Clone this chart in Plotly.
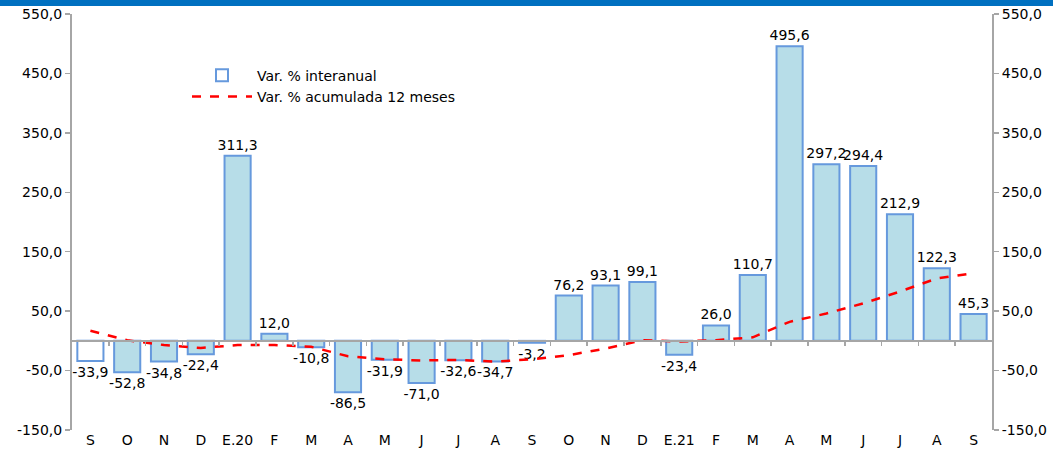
import plotly.graph_objects as go

months = ["S", "O", "N", "D", "E.20", "F", "M", "A", "M", "J", "J", "A", "S",
          "O", "N", "D", "E.21", "F", "M", "A", "M", "J", "J", "A", "S"]
interanual = [-33.9, -52.8, -34.8, -22.4, 311.3, 12.0, -10.8, -86.5, -31.9, -71.0,
              -32.6, -34.7, -3.2, 76.2, 93.1, 99.1, -23.4, 26.0, 110.7, 495.6,
              297.2, 294.4, 212.9, 122.3, 45.3]
acumulada = [17, 1, -7, -12, -7, -7, -10, -26, -31, -33, -32, -35, -31, -24, -13,
             1, -1, 1, 6, 32, 46, 63, 83, 105, 114]
y_ticks = [550, 450, 350, 250, 150, 50, -50, -150]
y_ticktext = [f"{v:.1f}".replace(".", ",") for v in y_ticks]

x = list(range(len(months)))
labels = [f"{v:.1f}".replace(".", ",") for v in interanual]
fills = ["#ffffff"] + ["#b7dde8"] * (len(months) - 1)

FONT = "DejaVu Sans"
ymin, ymax = -150, 550

fig = go.Figure()
fig.add_trace(go.Bar(
    x=x, y=interanual, name="Var. % interanual",
    marker=dict(color=fills, line=dict(color="#6699dd", width=2)),
    text=labels, textposition="outside", constraintext="none", cliponaxis=False,
    textfont=dict(family=FONT, size=14, color="#000000"),
    hoverinfo="skip",
))
fig.add_trace(go.Scatter(
    x=x, y=acumulada, name="Var. % acumulada 12 meses", mode="lines",
    line=dict(color="#ff0000", width=2.5, dash="dash"),
    xaxis="x2", yaxis="y2", hoverinfo="skip",
))

axis_common = dict(range=[ymin, ymax], tickvals=y_ticks, ticktext=y_ticktext,
                   showgrid=False, zeroline=False, showline=True,
                   linecolor="#a6a6a6", linewidth=2, ticks="outside",
                   ticklen=5, tickcolor="#a6a6a6", tickwidth=1.5,
                   tickfont=dict(family=FONT, size=14, color="#000000"),
                   automargin=False)

fig.update_layout(
    width=1053, height=451,
    margin=dict(l=72, r=61, t=14, b=21),
    paper_bgcolor="white", plot_bgcolor="white",
    separators=",.",
    bargap=0.29,
    showlegend=True,
    legend=dict(x=0.125, y=0.89, xanchor="left", yanchor="top",
                bgcolor="rgba(0,0,0,0)", font=dict(family=FONT, size=14, color="#000000"),
                itemwidth=60, tracegroupgap=4),
    font=dict(family=FONT, size=14, color="#000000"),
    xaxis=dict(range=[-0.5, len(months) - 0.5], tickvals=x, ticktext=months,
               showgrid=False, zeroline=False, showline=False, ticks="",
               tickfont=dict(family=FONT, size=14, color="#000000"),
               automargin=False),
    xaxis2=dict(range=[-0.5, len(months) - 0.5], overlaying="x", anchor="free",
                position=(0 - ymin) / (ymax - ymin),
                tickvals=[i + 0.5 for i in range(len(months) - 1)],
                showticklabels=False, ticks="outside", ticklen=4,
                tickcolor="#a6a6a6", tickwidth=1.5,
                showgrid=False, zeroline=False, showline=True,
                linecolor="#a6a6a6", linewidth=2),
    yaxis=dict(side="left", **axis_common),
    yaxis2=dict(side="right", overlaying="y", anchor="x", **axis_common),
    shapes=[dict(type="rect", xref="paper", yref="paper",
                 x0=-72 / 920, x1=(1053 - 72) / 920,
                 y0=(430 - 6) / 416, y1=(430 + 2) / 416 + 0.01,
                 fillcolor="#0070c0", line=dict(width=0), layer="above")],
)

fig.write_html("out.html",
               config={"displayModeBar": False, "staticPlot": True},
               post_script="document.body.style.margin='0';document.body.style.overflow='hidden';")
